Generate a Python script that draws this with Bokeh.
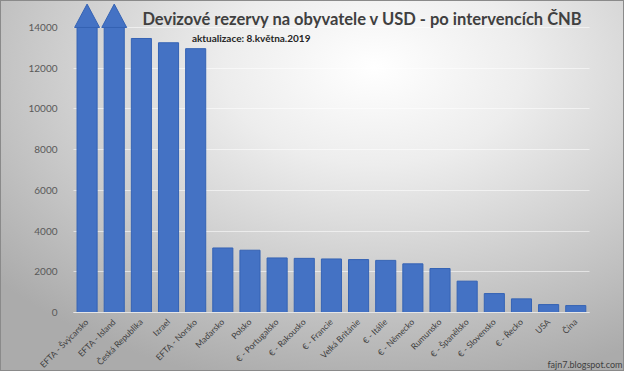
from bokeh.plotting import figure
from bokeh.models import ColumnDataSource, FixedTicker, Label, InlineStyleSheet, Range1d
from bokeh.embed import file_html
from bokeh.resources import INLINE

countries = ["EFTA - Švýcarsko", "EFTA - Island", "Česká Republika", "Izrael", "EFTA - Norsko",
             "Maďarsko", "Polsko", "€ - Portugalsko", "€ - Rakousko", "€ - Francie",
             "Velká Británie", "€ - Itálie", "€ - Německo", "Rumunsko", "€ - Španělsko",
             "€ - Slovensko", "€ - Řecko", "USA", "Čína"]
# first two values run off the chart (drawn clipped with an arrow); estimates
values = [94000, 18500, 13460, 13250, 12960,
          3170, 3060, 2680, 2660, 2630,
          2600, 2560, 2390, 2160, 1540,
          930, 670, 390, 340]
axis_cap = 14000
y_ticks = [0, 2000, 4000, 6000, 8000, 10000, 12000, 14000]

title_text = "Devizové rezervy na obyvatele v USD - po intervencích ČNB"
subtitle_text = "aktualizace: 8.května.2019"
footer_text = "fajn7.blogspot.com"

n = len(countries)
xs = list(range(n))
shown = [min(v, axis_cap) for v in values]
src = ColumnDataSource(dict(x=xs, top=shown, name=countries))

clipped = [i for i, v in enumerate(values) if v > axis_cap]
head_w = 0.46
head_h = 1150
arrow_src = ColumnDataSource(dict(
    xs=[[i - head_w, i, i + head_w] for i in clipped],
    ys=[[axis_cap, axis_cap + head_h, axis_cap] for i in clipped],
))

W, H = 624, 371
p = figure(width=W, height=H, output_backend="svg", toolbar_location=None,
           x_range=Range1d(-3.189, 19.795), y_range=Range1d(-2898, 15326),
           min_border_left=0, min_border_right=0, min_border_top=0, min_border_bottom=0)

p.stylesheets = [InlineStyleSheet(css=""":host {
  background: radial-gradient(ellipse 80% 88% at 60% 18%, #ffffff 0%, #ededed 30%, #cfcfcf 62%, #ababab 100%);
  box-shadow: inset 0 0 0 1px #8a8a8a;
}""")]
p.border_fill_color = None
p.background_fill_color = None
p.outline_line_color = None

p.vbar(x="x", top="top", bottom=0, width=0.74, source=src,
       fill_color="#4472c4", line_color="#3563b4", line_width=1)
p.patches(xs="xs", ys="ys", source=arrow_src, fill_color="#4472c4", line_color="#3563b4")

font = "Lato"
p.xaxis.fixed_location = 0
p.xaxis.bounds = (-0.5, n - 0.5)
p.xaxis.ticker = FixedTicker(ticks=xs)
p.xaxis.major_label_overrides = {i: c for i, c in enumerate(countries)}
p.xaxis.major_label_orientation = 0.785398
p.xaxis.major_label_text_font = font
p.xaxis.major_label_text_font_size = "8.5px"
p.xaxis.major_label_text_color = "#404040"
p.xaxis.major_tick_line_color = None
p.xaxis.minor_tick_line_color = None
p.xaxis.axis_line_color = "#e6e6e6"
p.xaxis.major_label_standoff = 2

p.yaxis.fixed_location = -0.5
p.yaxis.bounds = (0, axis_cap)
p.yaxis.ticker = FixedTicker(ticks=y_ticks)
p.yaxis.major_label_text_font = font
p.yaxis.major_label_text_font_size = "10px"
p.yaxis.major_label_text_color = "#595959"
p.yaxis.major_tick_line_color = None
p.yaxis.minor_tick_line_color = None
p.yaxis.axis_line_color = None
p.yaxis.major_label_standoff = 10

p.xgrid.grid_line_color = None
p.ygrid.grid_line_color = "#ffffff"
p.ygrid.grid_line_alpha = 0.55
p.ygrid.ticker = FixedTicker(ticks=y_ticks)
if "cross_bounds" in p.ygrid[0].properties():
    p.ygrid.cross_bounds = (-0.5, n - 0.5)
else:
    p.ygrid.grid_line_color = None
    p.segment(x0=[-0.5] * len(y_ticks), x1=[n - 0.5] * len(y_ticks), y0=y_ticks, y1=y_ticks,
              line_color="#ffffff", line_alpha=0.55, level="underlay")

p.add_layout(Label(x=10.15, y=14441, text=title_text, text_font=font, text_font_style="bold",
                   text_font_size="16.5px", text_color="#404040", text_align="center",
                   text_baseline="middle"))
p.add_layout(Label(x=3.86, y=13508, text=subtitle_text, text_font=font, text_font_style="bold",
                   text_font_size="10px", text_color="#262626", text_align="left",
                   text_baseline="middle"))
p.add_layout(Label(x=19.72, y=-2554, text=footer_text,
                   text_font=font, text_font_size="9px", text_color="#404040",
                   text_align="right", text_baseline="middle"))

open("out.html", "w").write(file_html(p, INLINE))
